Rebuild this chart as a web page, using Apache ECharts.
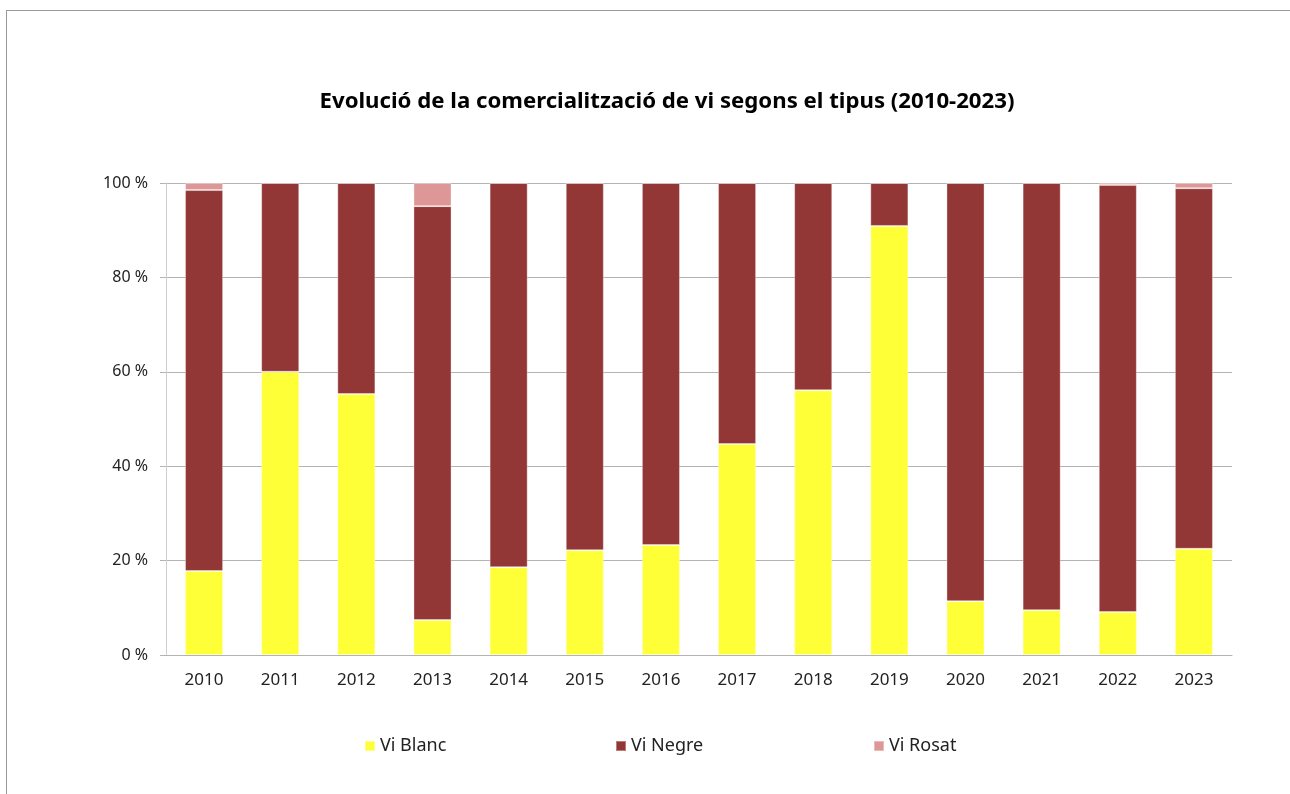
<!DOCTYPE html>
<html><head><meta charset="utf-8">
<script src="https://cdn.jsdelivr.net/npm/echarts@6/dist/echarts.min.js"></script>
<style>
html,body{margin:0;padding:0;background:#fff;}
#frame{position:absolute;left:6px;top:10px;width:1400px;height:900px;border:1px solid #999;box-sizing:border-box;}
#c{position:absolute;left:0;top:0;width:1290px;height:794px;}
</style></head>
<body>
<div id="frame"></div>
<div id="c"></div>
<script>
const years = ['2010','2011','2012','2013','2014','2015','2016','2017','2018','2019','2020','2021','2022','2023'];
const viBlanc = [17.8, 60.0, 55.3, 7.4, 18.6, 22.2, 23.3, 44.7, 56.1, 90.9, 11.4, 9.5, 9.1, 22.5];
const viNegre = [80.7, 40.0, 44.7, 87.7, 81.4, 77.8, 76.7, 55.3, 43.9, 9.1, 88.6, 90.5, 90.5, 76.4];
const viRosat = [1.5, 0, 0, 4.9, 0, 0, 0, 0, 0, 0, 0, 0, 0.4, 1.1];
const yTicks = [0, 20, 40, 60, 80, 100];

const chart = echarts.init(document.getElementById('c'));
const font = "'Noto Sans', 'Open Sans', sans-serif";
const mk = (name, data, color) => ({
  name, type: 'bar', stack: 'total', data, barWidth: '50%',
  itemStyle: { color, borderColor: 'rgba(255,255,255,0.35)', borderWidth: 1 }
});
const leg = (name, left) => ({
  data: [name], left, top: 732, icon: 'rect', itemWidth: 10, itemHeight: 10,
  textStyle: { fontSize: 18, color: '#222', fontFamily: font }
});
chart.setOption({
  animation: false,
  textStyle: { fontFamily: font },
  title: {
    text: 'Evolució de la comercialització de vi segons el tipus (2010-2023)',
    left: 662, top: 86, textAlign: 'center',
    textStyle: { fontSize: 22.2, fontWeight: 'bold', color: '#000', fontFamily: font }
  },
  grid: { left: 166, right: 58, top: 183, bottom: 139, containLabel: false },
  xAxis: {
    type: 'category', data: years,
    axisLine: { lineStyle: { color: '#b3b3b3' } },
    axisTick: { show: false },
    axisLabel: { color: '#222', fontSize: 17, margin: 17, fontFamily: font }
  },
  yAxis: {
    type: 'value', min: yTicks[0], max: yTicks[yTicks.length - 1], interval: 20,
    axisLine: { show: true, lineStyle: { color: '#d0d0d0' } },
    axisTick: { show: true, length: 6, lineStyle: { color: '#b3b3b3' } },
    splitLine: { lineStyle: { color: '#b3b3b3' } },
    axisLabel: { color: '#222', fontSize: 16, margin: 18, formatter: '{value} %', fontFamily: font }
  },
  legend: [leg('Vi Blanc', 359), leg('Vi Negre', 610), leg('Vi Rosat', 868)],
  series: [
    mk('Vi Blanc', viBlanc, '#ffff38'),
    mk('Vi Negre', viNegre, '#933636'),
    mk('Vi Rosat', viRosat, '#dd9797')
  ]
});
</script>
</body></html>
